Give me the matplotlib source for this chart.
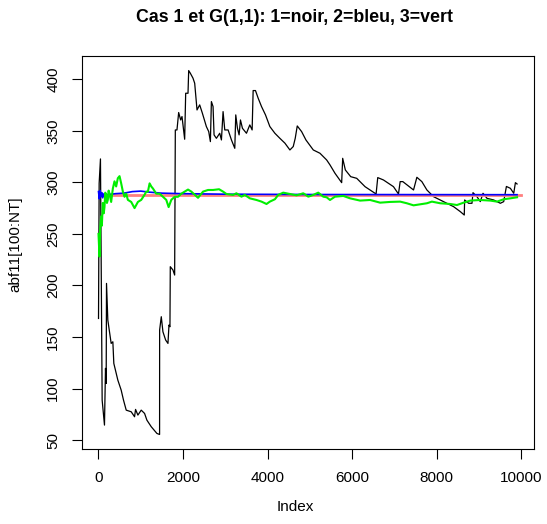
import matplotlib
matplotlib.use("Agg")
import matplotlib.pyplot as plt

plt.rcParams['font.family'] = ['Liberation Sans', 'DejaVu Sans']

# serie 1 (noir)
noir_x = [1, 16, 47, 87, 142, 166, 182, 190, 221, 300, 340, 363, 458, 537, 592, 656,
          774, 853, 877, 932, 1011, 1090, 1145, 1248, 1382, 1445, 1446, 1485, 1524, 1588,
          1643, 1667, 1690, 1698, 1761, 1801, 1817, 1856, 1896, 1943, 1975, 2038, 2062,
          2117, 2133, 2172, 2235, 2275, 2330, 2393, 2457, 2551, 2607, 2646, 2670, 2709,
          2733, 2788, 2867, 2907, 2946, 2986, 3065, 3144, 3223, 3246, 3286, 3325, 3357,
          3404, 3499, 3578, 3633, 3657, 3712, 3776, 3855, 3949, 4052, 4171, 4289, 4408,
          4526, 4605, 4652, 4700, 4803, 4905, 5079, 5237, 5395, 5474, 5592, 5750, 5774,
          5837, 5964, 6106, 6224, 6303, 6422, 6564, 6603, 6738, 6975, 7093, 7133, 7196,
          7449, 7528, 7646, 7765, 7923, 8160, 8397, 8555, 8649, 8657, 8752, 8831, 8855,
          8949, 9028, 9092, 9186, 9344, 9502, 9581, 9645, 9739, 9818, 9858, 9897]
noir_y = [168.0, 299.0, 322.7, 88.8, 64.6, 119.6, 105.0, 202.0, 166.5, 143.8, 145.4, 124.4,
          108.2, 98.5, 88.8, 79.1, 77.5, 72.7, 79.8, 74.3, 79.1, 75.9, 69.4, 63.0, 56.5,
          55.5, 156.8, 169.7, 155.1, 147.1, 143.8, 161.6, 160.0, 218.2, 215.0, 210.1,
          350.8, 350.8, 367.7, 360.5, 363.8, 341.8, 386.4, 386.4, 408.4, 405.8, 401.0,
          396.1, 370.2, 375.1, 367.0, 354.1, 349.2, 339.5, 378.3, 373.5, 346.0, 342.7,
          347.6, 341.1, 368.6, 350.8, 350.8, 341.1, 333.0, 365.4, 352.4, 346.0, 360.5,
          352.4, 347.6, 355.7, 350.8, 389.0, 389.0, 381.6, 373.5, 365.4, 354.1, 347.6,
          342.7, 338.0, 331.4, 334.7, 342.7, 354.7, 349.2, 341.1, 331.4, 328.2, 321.7,
          316.9, 308.8, 299.7, 323.3, 312.0, 305.5, 303.9, 299.0, 295.8, 292.6, 288.7,
          304.6, 302.3, 295.8, 288.7, 300.7, 300.7, 292.6, 304.9, 300.7, 292.6, 286.1,
          281.3, 276.4, 271.6, 268.3, 282.9, 279.7, 279.7, 290.0, 286.1, 281.3, 289.4,
          284.5, 282.9, 279.7, 281.3, 296.0, 294.2, 289.4, 299.7, 298.4]

# serie 2 (bleu)
bleu_x = [1, 20, 40, 60, 80, 100, 130, 200, 400, 600, 800, 1000, 1200, 1500, 2000,
          3000, 5000, 9897]
bleu_y = [291.0, 284.0, 292.0, 286.0, 290.0, 285.0, 289.0, 288.0, 289.0, 289.5, 291.0,
          291.5, 290.5, 289.5, 289.0, 288.5, 288.2, 288.0]

# serie 3 (vert)
vert_x = [1, 24, 40, 63, 80, 103, 125, 142, 160, 182, 200, 221, 240, 261, 300, 340,
          379, 418, 458, 498, 537, 577, 616, 656, 695, 774, 853, 932, 1011, 1090, 1129,
          1169, 1209, 1248, 1288, 1366, 1445, 1525, 1603, 1659, 1722, 1801, 1880, 1959,
          2038, 2117, 2196, 2354, 2472, 2591, 2709, 2852, 2946, 3025, 3183, 3262, 3381,
          3460, 3578, 3736, 3855, 3973, 4052, 4171, 4250, 4368, 4526, 4684, 4842, 4961,
          5079, 5197, 5316, 5395, 5474, 5592, 5790, 5948, 6185, 6422, 6659, 6896, 7133,
          7291, 7449, 7607, 7765, 7883, 8081, 8318, 8476, 8633, 8791, 9028, 9265, 9423,
          9581, 9739, 9897]
vert_y = [250.0, 228.0, 255.0, 267.0, 258.0, 280.0, 270.0, 276.0, 290.0, 288.0, 280.0,
          283.0, 292.0, 289.0, 281.0, 294.0, 301.0, 296.0, 304.0, 306.0, 299.0, 291.0,
          286.0, 289.0, 283.0, 281.0, 275.0, 281.0, 283.0, 288.0, 291.0, 291.0, 299.0,
          296.0, 294.0, 289.0, 289.0, 286.0, 283.0, 276.0, 283.0, 286.0, 286.0, 289.0,
          291.0, 293.0, 291.0, 285.0, 291.0, 292.6, 292.6, 293.3, 291.0, 288.7, 287.8,
          289.4, 286.1, 287.8, 284.5, 282.9, 281.3, 279.0, 281.3, 283.6, 287.8, 290.0,
          288.7, 287.4, 289.4, 286.1, 287.8, 290.0, 286.1, 285.5, 282.9, 286.1, 286.8,
          284.5, 282.3, 282.9, 280.3, 281.0, 281.3, 279.7, 277.7, 278.7, 279.7, 281.3,
          279.7, 279.0, 278.0, 280.3, 282.3, 282.9, 282.3, 281.3, 283.6, 284.5, 285.5]

# valeur de reference (rouge)
rouge_x = [1, 10000]
rouge_y = [287.8, 287.8]

fig = plt.figure(figsize=(5.47, 5.24), dpi=100)
ax = fig.add_axes([0.1494, 0.1431, 0.8268, 0.75])

ax.plot(noir_x, noir_y, color="black", lw=0.9)
ax.plot(rouge_x, rouge_y, color="#ff8080", lw=2)
ax.plot(bleu_x, bleu_y, color="blue", lw=1.2)
ax.plot(vert_x, vert_y, color="#00ee00", lw=1.5)

ax.set_xlim(-396, 10297)
ax.set_ylim(41.4, 422.5)
ax.set_xticks([0, 2000, 4000, 6000, 8000, 10000])
ax.set_yticks([50, 100, 150, 200, 250, 300, 350, 400])
ax.set_yticklabels(['50', '100', '150', '200', '250', '300', '350', '400'],
                   rotation=90, va='center')
ax.tick_params(direction='out', length=7.5, width=0.8, labelsize=11, pad=8)
for s in ax.spines.values():
    s.set_linewidth(0.8)

fig.text(0.5375, 1 - 18 / 524, "Cas 1 et G(1,1): 1=noir, 2=bleu, 3=vert",
         ha='center', va='center', fontsize=12.8, fontweight='bold')
fig.text(295 / 547, 1 - 507 / 524, "Index", ha='center', va='center', fontsize=11)
fig.text(15.5 / 547, 1 - 244 / 524, "abf11[100:NT]", ha='center', va='center',
         rotation=90, fontsize=11)

plt.savefig("out.png", dpi=100)
